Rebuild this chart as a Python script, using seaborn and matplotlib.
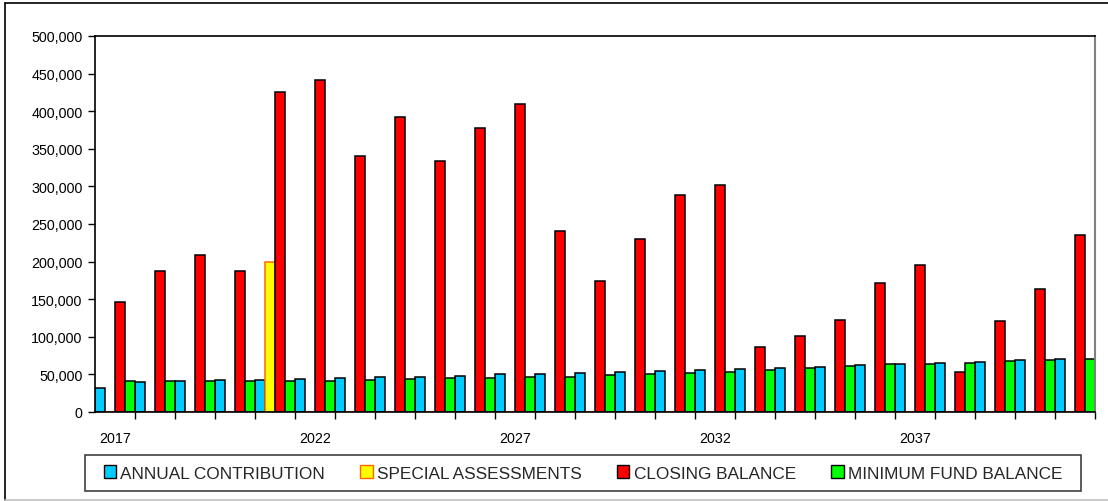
import numpy as np
import pandas as pd
import seaborn as sns
import matplotlib.pyplot as plt
from matplotlib.lines import Line2D
from matplotlib.patches import Rectangle
from matplotlib.ticker import FuncFormatter, FixedLocator

years = list(range(2017, 2042))

annual_contribution = [32000, 40000, 41000, 42000, 43000, 44000, 45000, 46000, 47200, 48500,
                       50000, 51000, 51800, 53000, 54300, 55600, 57000, 58500, 60500, 62500,
                       64000, 65300, 67000, 68800, 70600]
special_assessments = [0, 0, 0, 0, 200000, 0, 0, 0, 0, 0,
                       0, 0, 0, 0, 0, 0, 0, 0, 0, 0,
                       0, 0, 0, 0, 0]
closing_balance = [146000, 188000, 209000, 188000, 425000, 442000, 341000, 392000, 334000, 377000,
                   410000, 241000, 174000, 230000, 289000, 302000, 87000, 101000, 123000, 172000,
                   196000, 53000, 121000, 163000, 236000]
minimum_fund = [41000, 41000, 41000, 41000, 41000, 41500, 42400, 43700, 44600, 45500,
                46800, 47200, 49000, 50300, 51600, 53800, 56000, 58700, 61300, 63500,
                64400, 65800, 68000, 68800, 70600]

series_names = ["ANNUAL CONTRIBUTION", "SPECIAL ASSESSMENTS", "CLOSING BALANCE", "MINIMUM FUND BALANCE"]
series_colors = ["#00CCFF", "#FFFF00", "#FF0000", "#00FF00"]

rows = []
for name, vals in zip(series_names, [annual_contribution, special_assessments, closing_balance, minimum_fund]):
    for y, v in zip(years, vals):
        rows.append({"year": str(y), "series": name, "value": v})
df = pd.DataFrame(rows)

sns.set_style("white")
plt.rcParams['font.family'] = ['Liberation Sans', 'DejaVu Sans']

W, H = 1108, 502
fig = plt.figure(figsize=(W / 100, H / 100), dpi=100)
ax = fig.add_axes([95 / W, 1 - 413 / H, 1000 / W, 376 / H])

sns.barplot(data=df, x="year", y="value", hue="series", hue_order=series_names,
            palette=series_colors, width=1.0, errorbar=None, edgecolor="black",
            linewidth=1.1, saturation=1, ax=ax)

# special assessments get an orange outline
for p in ax.containers[1]:
    p.set_edgecolor("#FF6600")

ax.set_xlim(-0.5, len(years) - 0.5)
ax.set_ylim(0, 500000)
ax.set_yticks(np.arange(0, 500001, 50000))
ax.yaxis.set_major_formatter(FuncFormatter(lambda v, _: f"{int(v):,}"))
ax.tick_params(axis="y", which="major", left=True, length=5, width=1, color="black",
               labelsize=10.3, labelcolor="black", pad=4)

label_pos = [i for i, y in enumerate(years) if (y - 2017) % 5 == 0]
ax.xaxis.set_major_locator(FixedLocator(label_pos))
ax.set_xticklabels([str(years[i]) for i in label_pos])
ax.xaxis.set_minor_locator(FixedLocator(np.arange(0.5, len(years) - 0.4, 1.0)))
ax.tick_params(axis="x", which="major", bottom=True, length=0, labelsize=10.3, labelcolor="black", pad=14)
ax.tick_params(axis="x", which="minor", bottom=True, length=5, width=1, color="black")
ax.set_xlabel("")
ax.set_ylabel("")

for side in ["left", "bottom", "top"]:
    ax.spines[side].set_visible(True)
    ax.spines[side].set_color("black")
    ax.spines[side].set_linewidth(1.2)
ax.spines["right"].set_visible(True)
ax.spines["right"].set_color("#808080")
ax.spines["right"].set_linewidth(1.5)

ax.legend_.remove()
handles = [plt.Rectangle((0, 0), 1, 1, facecolor=c, edgecolor=("#FF6600" if i == 1 else "black"), linewidth=1)
           for i, c in enumerate(series_colors)]
fig.legend(handles, series_names, loc="center", bbox_to_anchor=(583 / W, 1 - 474 / H),
           ncol=4, fontsize=12.4, handlelength=0.72, handleheight=0.72, handletextpad=0.25,
           columnspacing=2.05, frameon=False)
# legend box
fig.add_artist(Rectangle((85 / W, 1 - 492 / H), 996 / W, 36 / H, transform=fig.transFigure,
                         fill=False, edgecolor="#404040", linewidth=1.2))

# outer chart frame
fig.add_artist(Line2D([5 / W, 5 / W], [1.5 / H, 1 - 4 / H], transform=fig.transFigure, color="black", lw=1.2))
fig.add_artist(Line2D([5 / W, 1.0], [1 - 4 / H, 1 - 4 / H], transform=fig.transFigure, color="black", lw=1.2))
fig.add_artist(Line2D([5 / W, 1.0], [1.5 / H, 1.5 / H], transform=fig.transFigure, color="#C0C0C0", lw=1.2))

fig.savefig("out.png", dpi=100)
